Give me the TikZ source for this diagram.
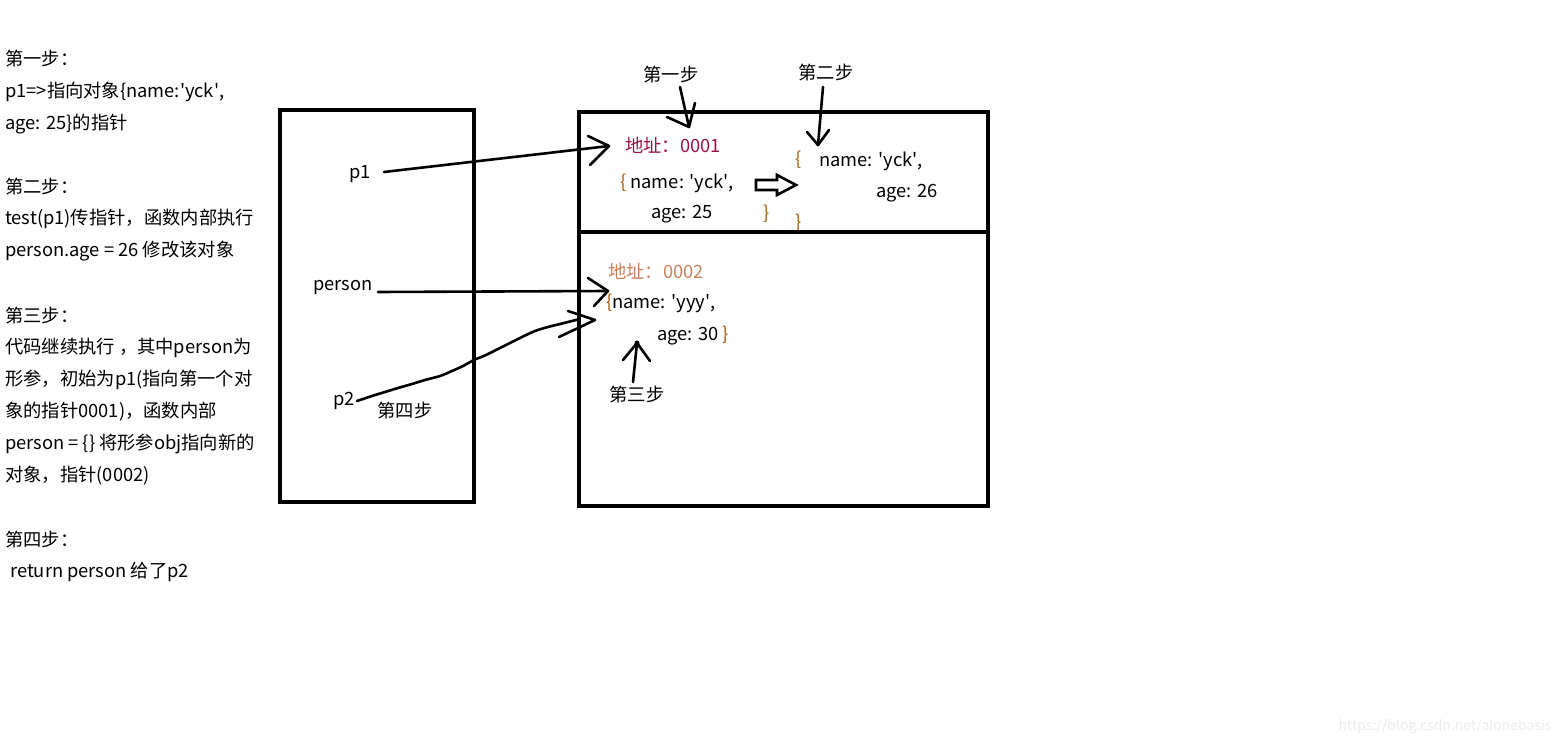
\documentclass[tikz,border=0pt]{standalone}
\usepackage{fontspec}
\setmainfont{Noto Sans CJK SC}
\newcommand\sq{\textquotesingle}
\definecolor{addrA}{HTML}{A0103C}
\definecolor{addrB}{HTML}{C8825A}
\definecolor{brc}{HTML}{A85A10}
\begin{document}
\begin{tikzpicture}[x=1pt,y=-1pt,
  txt/.style={inner sep=0pt,font=\fontsize{18.3}{20}\selectfont},
  ltxt/.style={txt,anchor=west},
  frame/.style={line width=4pt},
  pen/.style={line width=2.6pt,line cap=round,line join=round},
  ]
\useasboundingbox (0,0) rectangle (1566,746);
% left explanation
\node[ltxt] (l1) at (5,59) {第一步：};
\node[ltxt] (l2) at (5,92) {p1=>指向对象\{name:\sq yck\sq,};
\node[ltxt] (l3) at (5,124) {age: 25\}的指针};
\node[ltxt] (l4) at (5,187) {第二步：};
\node[ltxt] (l5) at (5,219) {test(p1)传指针，函数内部执行};
\node[ltxt] (l6) at (5,251) {person.age = 26 修改该对象};
\node[ltxt] (l7) at (5,316) {第三步：};
\node[ltxt] (l8) at (5,348) {代码继续执行 ，其中person为};
\node[ltxt] (l9) at (5,380) {形参，初始为p1(指向第一个对};
\node[ltxt] (l10) at (5,412) {象的指针0001)，函数内部};
\node[ltxt] (l11) at (5,444) {person = \{\} 将形参obj指向新的};
\node[ltxt] (l12) at (5,476) {对象，指针(0002)};
\node[ltxt] (l13) at (5,540) {第四步：};
\node[ltxt] (l14) at (10,572) {return person 给了p2};
% boxes
\draw[frame] (280,110) rectangle (474,502);
\draw[frame] (579,112) rectangle (988,506);
% stack labels
\node[txt] (p1) at (360,174) {p1};
\node[txt] (person) at (343,287) {person};
\node[txt] (p2) at (344,401) {p2};
\node[txt] (s4) at (405,411) {第四步};
% heap top
\node[txt,text=addrA] (a1) at (673,145) {地址：0001};
\node[txt,anchor=west] (o1a) at (620,183) {\textcolor{brc}{\{} name: \sq yck\sq,};
\node[txt] (o1b) at (682,214) {age: 25};
\node[txt,text=brc] (o1c) at (767,214) {\}};
\node[txt,text=brc] (o2o) at (799,160) {\{};
\node[txt] (o2a) at (871,161) {name: \sq yck\sq,};
\node[txt] (o2b) at (907,193) {age: 26};
\node[txt,text=brc,anchor=north] (o2c) at (799,214) {\}};
\node[txt] (s1) at (671,75) {第一步};
\node[txt] (s2) at (826,73) {第二步};
% heap bottom
\node[txt,text=addrB] (a2) at (656,271) {地址：0002};
\node[txt,anchor=west] (o3a) at (606,303) {\textcolor{brc}{\{}name: \sq yyy\sq,};
\node[txt,anchor=west] (o3b) at (657,336) {age: 30 \textcolor{brc}{\}}};
\node[txt] (s3) at (637,395) {第三步};
% divider (covers lower part of brace)
\draw[frame] (579,232) -- (988,232);
% coordinates
\coordinate (t1) at (609,146);
\coordinate (t2) at (608,291);
\coordinate (t3) at (580,319);
\coordinate (t4) at (689,127);
\coordinate (t5) at (818,145);
\coordinate (t6) at (637,343);
% arrows
\draw[pen] ([xshift=13pt,yshift=2pt]p1.east) -- (t1);
\draw[pen] ([xshift=5pt,yshift=-5pt]person.east) -- (t2);
\draw[pen] (588,136) -- (t1) -- (590,165);
\draw[pen] (588,278) -- (t2) -- (594,306);
\draw[pen] plot[smooth,tension=0.6] coordinates
  {([xshift=2pt]p2.east) (372,396) (385,392) (398,388) (412,384) (425,380) (440,376) (452,371) (463,366) (474,360) (486,355) (498,349) (510,343) (522,337) (535,331) (548,327) (560,324) (572,321) (t3)};
\draw[pen] (568,311) -- (595,320) -- (559,337);
\draw[pen] (680,87) -- (t4);
\draw[pen] (667,117) -- (t4) -- (695,103);
\draw[pen] (823,87) -- (t5);
\draw[pen] (807,132) -- (t5) -- (829,130);
\draw[pen] (633,382) -- (t6);
\draw[pen] (623,360) -- (t6) -- (650,361);
\fill (t6) circle (2.5);
% hollow arrow
\draw[line width=2.6pt,line join=miter] (756,180) -- (777,180) -- (777,175) -- (796,185) -- (777,195) -- (777,190) -- (756,190) -- cycle;
% watermark
\node[inner sep=0pt,text=black!8,font=\fontsize{14}{16}\selectfont] (wm) at (1445,727) {https://blog.csdn.net/alonebasis};
\end{tikzpicture}
\end{document}
